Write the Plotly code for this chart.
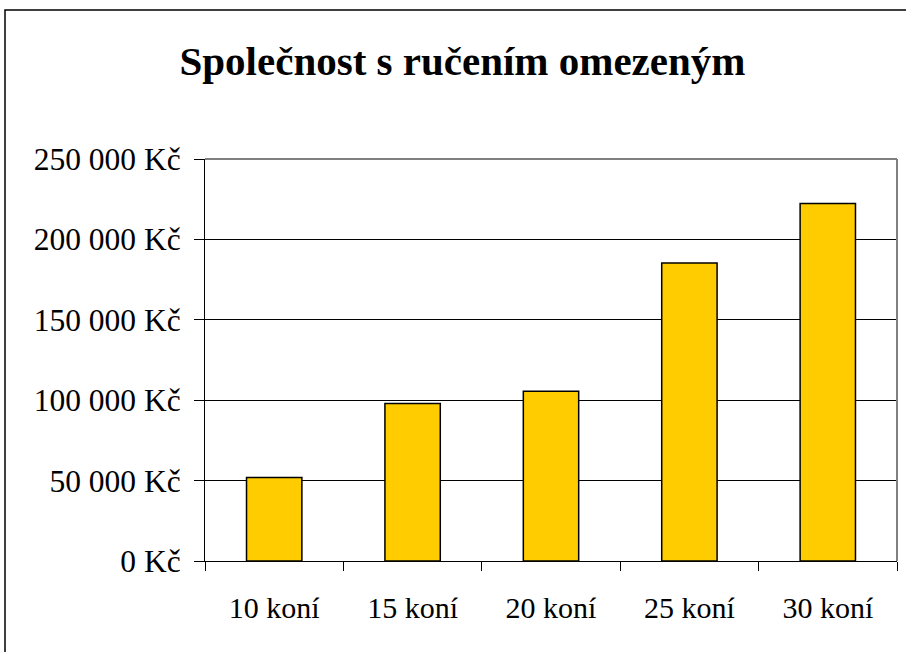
import plotly.graph_objects as go

categories = ["10 koní", "15 koní", "20 koní", "25 koní", "30 koní"]
values = [52000, 98000, 105500, 185300, 222400]
y_tick_vals = [0, 50000, 100000, 150000, 200000, 250000]
y_tick_text = ["0 Kč", "50 000 Kč", "100 000 Kč", "150 000 Kč", "200 000 Kč", "250 000 Kč"]
title_text = "Společnost s ručením omezeným"

FONT = "Liberation Serif"

fig = go.Figure()
fig.add_trace(go.Bar(
    x=categories, y=values,
    marker=dict(color="#FFCC00", line=dict(color="#000000", width=1.5)),
    width=0.4,
    hoverinfo="skip",
))

L, R, T, B = 205, 9, 159, 91
W, H = 906, 652
pw = W - L - R
ph = H - T - B

fig.update_layout(
    width=W, height=H,
    margin=dict(l=L, r=R, t=T, b=B, pad=0),
    paper_bgcolor="white", plot_bgcolor="white",
    showlegend=False,
    font=dict(family=FONT, color="black", size=30),
    title=dict(
        text="<b>" + title_text + "</b>",
        font=dict(family=FONT, size=41, color="black"),
        x=462.5 / W, xanchor="center",
        y=1 - 61 / H, yanchor="middle",
        xref="container", yref="container",
    ),
    bargap=0.6,
)

fig.update_xaxes(
    type="category",
    showline=True, linecolor="black", linewidth=1,
    ticks="outside", ticklen=9, tickcolor="black", tickwidth=1,
    tickson="boundaries",
    showgrid=False,
    tickfont=dict(family=FONT, size=30, color="black"),
    ticklabelstandoff=20,
)
fig.update_yaxes(
    range=[0, 250000],
    tickvals=y_tick_vals, ticktext=y_tick_text,
    showline=True, linecolor="black", linewidth=1,
    ticks="outside", ticklen=10, tickcolor="black", tickwidth=1,
    showgrid=True, gridcolor="black", gridwidth=1,
    zeroline=False,
    tickfont=dict(family=FONT, size=31.5, color="black"),
    ticklabelstandoff=7,
)

# plot-area border (grey top/right)
fig.add_shape(type="line", xref="paper", yref="paper", x0=0, x1=1, y0=1, y1=1,
              line=dict(color="#808080", width=2), layer="above")
fig.add_shape(type="line", xref="paper", yref="paper", x0=1, x1=1, y0=0, y1=1,
              line=dict(color="#808080", width=2), layer="above")

# outer chart border
fig.add_shape(type="rect", xref="paper", yref="paper",
              x0=(5 - L) / pw, x1=(915 - L) / pw,
              y0=(H - B - 680) / ph, y1=(H - B - 10) / ph,
              line=dict(color="black", width=1.5), fillcolor="rgba(0,0,0,0)", layer="below")

fig.write_html("out.html", config={"displayModeBar": False},
               post_script="document.body.style.margin='0px';")
